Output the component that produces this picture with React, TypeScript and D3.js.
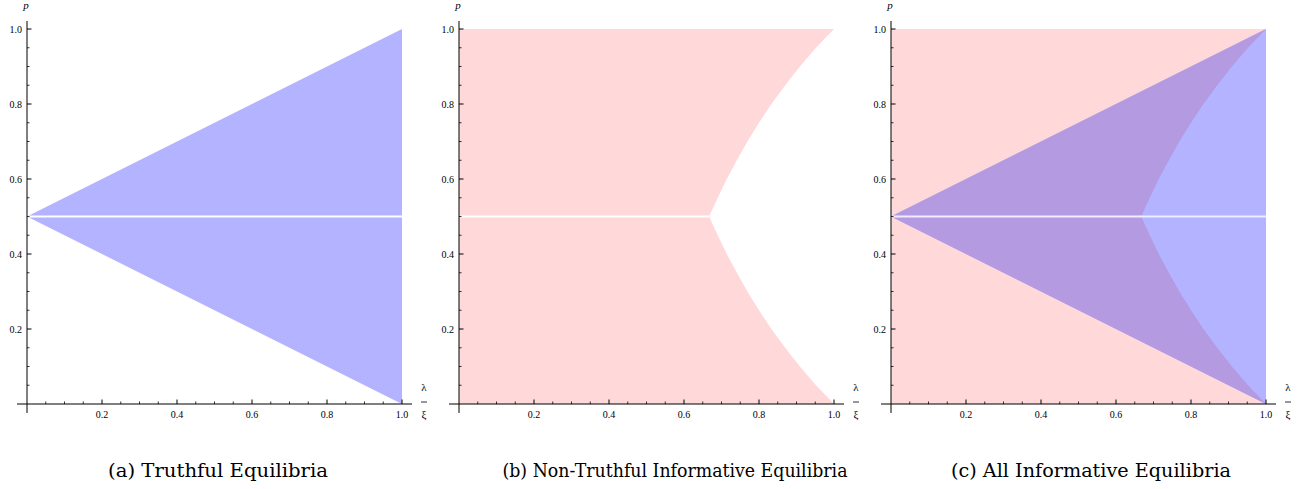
import * as d3 from 'd3';

// tick values and labels (both axes share them)
const majorTicks = [0.2, 0.4, 0.6, 0.8, 1.0];
const tickLabels = ['0.2', '0.4', '0.6', '0.8', '1.0'];
const minorTicks = [0.05, 0.1, 0.15, 0.25, 0.3, 0.35, 0.45, 0.5, 0.55, 0.65, 0.7, 0.75, 0.85, 0.9, 0.95];

const captions = [
  '(a) Truthful Equilibria',
  '(b) Non-Truthful Informative Equilibria',
  '(c) All Informative Equilibria',
];

// truthful region: [lambda/xi, p]
const truthfulRegion: [number, number][] = [[0, 0.5], [1, 1], [1, 0]];

// right edge of the non-truthful region: [lambda/xi, p]
const nonTruthfulEdge: [number, number][] = [
  [1.0, 0.0], [0.952, 0.05], [0.909, 0.1], [0.87, 0.15], [0.833, 0.2], [0.8, 0.25],
  [0.769, 0.3], [0.741, 0.35], [0.714, 0.4], [0.69, 0.45], [0.667, 0.5],
  [0.69, 0.55], [0.714, 0.6], [0.741, 0.65], [0.769, 0.7], [0.8, 0.75],
  [0.833, 0.8], [0.87, 0.85], [0.909, 0.9], [0.952, 0.95], [1.0, 1.0],
];
const nonTruthfulRegion: [number, number][] = [[0, 0], ...nonTruthfulEdge, [0, 1]];

// p = 1/2 is excluded: gap from 0 up to these lambda/xi values
const gapEnds = [1.0, 0.667, 1.0];

const W = 375;
const H = 375;
const x = d3.scaleLinear().domain([0, 1]).range([0, W]);
const y = d3.scaleLinear().domain([0, 1]).range([H, 0]);
const area = d3.line<[number, number]>().x((d) => x(d[0])).y((d) => y(d[1]));

const PINK = '#ffd8da';
const BLUE = '#b3b3ff';
const PURPLE = '#b39ae1';
const FONT = '"Liberation Serif", "Times New Roman", serif';

const panelLeft = [27, 459, 891];
const captionX = [218, 675, 1091];
const captionWidth = [220, 345, 280];

function Panel({ i }: { i: number }) {
  const pink = i === 1 || i === 2;
  const blue = i === 0 || i === 2;
  return (
    <g transform={`translate(${panelLeft[i]},29)`}>
      <defs>
        <clipPath id={`clip-nt-${i}`}>
          <path d={area(nonTruthfulRegion) + 'Z'} />
        </clipPath>
      </defs>
      {pink && <path d={area(nonTruthfulRegion) + 'Z'} fill={PINK} />}
      {blue && <path d={area(truthfulRegion) + 'Z'} fill={BLUE} />}
      {pink && blue && (
        <path d={area(truthfulRegion) + 'Z'} fill={PURPLE} clipPath={`url(#clip-nt-${i})`} />
      )}
      <line x1={x(0)} x2={x(gapEnds[i])} y1={y(0.5)} y2={y(0.5)}
        stroke={i === 2 ? '#eeeeff' : '#ffffff'} strokeWidth={2} />

      {/* axes */}
      <line x1={-10} x2={W + 10} y1={y(0)} y2={y(0)} stroke="#000" strokeWidth={1} />
      <line x1={x(0)} x2={x(0)} y1={-8} y2={H + 9} stroke="#000" strokeWidth={1} />
      {majorTicks.map((t) => (
        <g key={'M' + t}>
          <line x1={x(t)} x2={x(t)} y1={y(0)} y2={y(0) - 4.5} stroke="#000" />
          <line x1={x(0)} x2={x(0) + 4.5} y1={y(t)} y2={y(t)} stroke="#000" />
        </g>
      ))}
      {minorTicks.map((t) => (
        <g key={'m' + t}>
          <line x1={x(t)} x2={x(t)} y1={y(0)} y2={y(0) - 2.5} stroke="#000" strokeWidth={0.8} />
          <line x1={x(0)} x2={x(0) + 2.5} y1={y(t)} y2={y(t)} stroke="#000" strokeWidth={0.8} />
        </g>
      ))}
      {majorTicks.map((t, k) => (
        <g key={'L' + t} fontFamily={FONT} fontSize={10} fill="#000">
          <text x={x(t)} y={y(0) + 14} textAnchor="middle">{tickLabels[k]}</text>
          <text x={x(0) - 5} y={y(t) + 3.5} textAnchor="end">{tickLabels[k]}</text>
        </g>
      ))}
      <text x={x(0) - 1} y={-20} fontFamily={FONT} fontSize={11} fontStyle="italic" textAnchor="middle">p</text>
      <g fontFamily={FONT} fontSize={11} textAnchor="middle">
        <text x={W + 22} y={H - 13}>λ</text>
        <line x1={W + 19} x2={W + 25} y1={H - 2} y2={H - 2} stroke="#000" strokeWidth={0.8} />
        <text x={W + 22} y={H + 14}>ξ</text>
      </g>
    </g>
  );
}

export default function App() {
  return (
    <svg width={1307} height={489} style={{ position: 'absolute', left: 0, top: 0, background: '#fff' }}>
      {[0, 1, 2].map((i) => (
        <Panel key={i} i={i} />
      ))}
      {captions.map((c, i) => (
        <text key={c} x={captionX[i]} y={477} textAnchor="middle" fontFamily={'"DejaVu Serif", serif'}
          fontSize={19} fill="#000" textLength={captionWidth[i]} lengthAdjust="spacingAndGlyphs">
          {c}
        </text>
      ))}
    </svg>
  );
}
